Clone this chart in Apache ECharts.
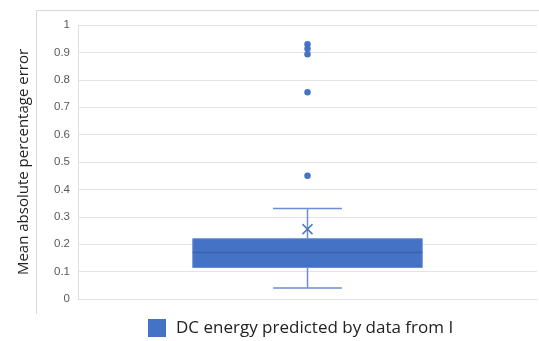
<!DOCTYPE html>
<html><head><meta charset="utf-8">
<script src="https://cdn.jsdelivr.net/npm/echarts@6/dist/echarts.min.js"></script>
<style>html,body{margin:0;padding:0;background:#fff}#c{width:539px;height:341px}</style>
</head><body><div id="c"></div>
<script>
const categories = ['DC energy predicted by data from I'];
const seriesName = 'DC energy predicted by data from I';
// [min whisker, Q1, median, Q3, max whisker]
const boxStats = [0.04, 0.115, 0.17, 0.22, 0.33];
const meanValue = 0.255;
const outliers = [0.45, 0.755, 0.893, 0.913, 0.93];
const yTicks = [0, 0.1, 0.2, 0.3, 0.4, 0.5, 0.6, 0.7, 0.8, 0.9, 1];

const chart = echarts.init(document.getElementById('c'));
const blue = '#4472C4';
chart.setOption({
  animation: false,
  grid: {left: 78, right: 2, top: 25, bottom: 42},
  legend: {
    data: [seriesName], top: 314, left: 143,
    icon: 'rect', itemWidth: 18, itemHeight: 18, itemGap: 10,
    textStyle: {fontSize: 17, color: '#222', fontFamily: 'Open Sans', padding: [0, 0, 0, 5]}
  },
  graphic: [
    {type: 'line', shape: {x1: 36.5, y1: 10, x2: 36.5, y2: 314}, style: {stroke: '#d9d9d9', lineWidth: 1}},
    {type: 'line', shape: {x1: 36, y1: 10.5, x2: 539, y2: 10.5}, style: {stroke: '#d9d9d9', lineWidth: 1}}
  ],
  xAxis: {type: 'category', data: categories, axisLabel: {show: false}, axisTick: {show: false},
    axisLine: {show: true, lineStyle: {color: '#e0e0e0'}}},
  yAxis: {type: 'value', min: 0, max: 1, interval: 0.1,
    name: 'Mean absolute percentage error', nameLocation: 'middle', nameRotate: 90, nameGap: 47,
    nameTextStyle: {fontSize: 15, color: '#222', fontFamily: 'Open Sans'},
    axisLine: {show: true, lineStyle: {color: '#e0e0e0'}}, axisTick: {show: false},
    axisLabel: {color: '#595959', fontSize: 11.5, margin: 8, fontFamily: 'Liberation Sans',
      formatter: v => { const t = yTicks.find(x => Math.abs(x - v) < 1e-9); return t === undefined ? '' : String(t); }},
    splitLine: {lineStyle: {color: '#e3e3e3', width: 1}}
  },
  series: [
    {
      name: seriesName, type: 'custom', itemStyle: {color: blue},
      data: [[0].concat(boxStats).concat([meanValue])],
      renderItem: function (params, api) {
        const x = api.value(0);
        const bw = api.size([1, 0])[0];
        const boxW = bw * 0.5, capW = bw * 0.15;
        const c = api.coord([x, 0])[0];
        const yMin = api.coord([x, api.value(1)])[1];
        const yQ1 = api.coord([x, api.value(2)])[1];
        const yMed = api.coord([x, api.value(3)])[1];
        const yQ3 = api.coord([x, api.value(4)])[1];
        const yMax = api.coord([x, api.value(5)])[1];
        const yMean = api.coord([x, api.value(6)])[1];
        const ls = {stroke: '#6a8fd3', lineWidth: 1.5};
        const m = 5;
        return {type: 'group', children: [
          {type: 'line', shape: {x1: c, y1: yQ3, x2: c, y2: yMax}, style: ls},
          {type: 'line', shape: {x1: c, y1: yQ1, x2: c, y2: yMin}, style: ls},
          {type: 'line', shape: {x1: c - capW / 2, y1: yMax, x2: c + capW / 2, y2: yMax}, style: ls},
          {type: 'line', shape: {x1: c - capW / 2, y1: yMin, x2: c + capW / 2, y2: yMin}, style: ls},
          {type: 'rect', shape: {x: c - boxW / 2, y: yQ3, width: boxW, height: yQ1 - yQ3},
            style: {fill: blue, stroke: '#6a8fd3', lineWidth: 1}},
          {type: 'line', shape: {x1: c - boxW / 2, y1: yMed, x2: c + boxW / 2, y2: yMed}, style: {stroke: '#3a62ad', lineWidth: 1.5}},
          {type: 'line', shape: {x1: c - m, y1: yMean - m, x2: c + m, y2: yMean + m}, style: {stroke: '#4f78c6', lineWidth: 1.5}},
          {type: 'line', shape: {x1: c - m, y1: yMean + m, x2: c + m, y2: yMean - m}, style: {stroke: '#4f78c6', lineWidth: 1.5}}
        ]};
      }
    },
    {
      name: 'outliers', type: 'scatter', symbol: 'circle', symbolSize: 6.5,
      itemStyle: {color: blue, opacity: 1},
      data: outliers.map(v => [categories[0], v])
    }
  ]
});
</script></body></html>
